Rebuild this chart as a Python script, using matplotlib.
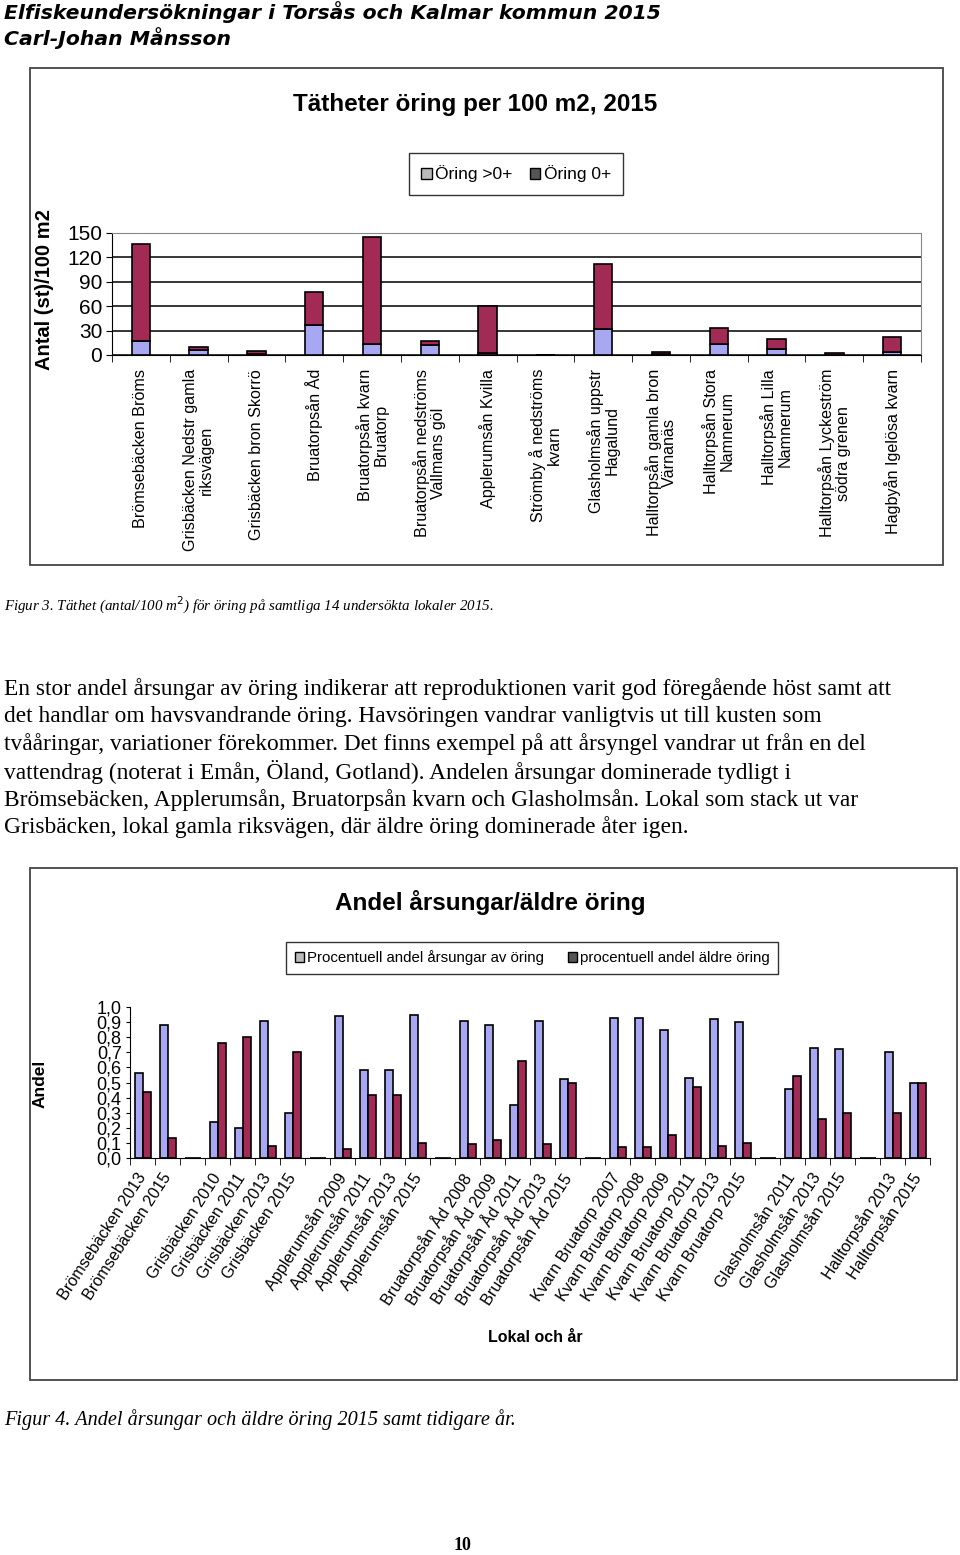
import numpy as np
import matplotlib.pyplot as plt
from matplotlib.patches import Rectangle, Patch

# --- Figur 3: täthet öring per 100 m2, 2015 ---
lokaler = ["Brömsebäcken Bröms", "Grisbäcken Nedstr gamla\nriksvägen", "Grisbäcken bron Skorrö",
           "Bruatorpsån Åd", "Bruatorpsån kvarn\nBruatorp", "Bruatorpsån nedströms\nVallmans göl",
           "Applerumsån Kvilla", "Strömby å nedströms\nkvarn", "Glasholmsån uppstr\nHagalund",
           "Halltorpsån gamla bron\nVärnanäs", "Halltorpsån Stora\nNamnerum", "Halltorpsån Lilla\nNamnerum",
           "Halltorpsån Lyckeström\nsödra grenen", "Hagbyån Igelösa kvarn"]
oring_aldre = [17, 6, 1, 37, 13, 12, 3, 0, 32, 1, 13, 7, 0, 4]      # Öring >0+
oring_0 = [120, 4, 4, 40, 132, 5, 57, 0, 80, 3, 20, 13, 3, 18]       # Öring 0+

# --- Figur 4: andel årsungar / äldre öring ---
lokal_ar = ["Brömsebäcken 2013", "Brömsebäcken 2015", "",
            "Grisbäcken 2010", "Grisbäcken 2011", "Grisbäcken 2013", "Grisbäcken 2015", "",
            "Applerumsån 2009", "Applerumsån 2011", "Applerumsån 2013", "Applerumsån 2015", "",
            "Bruatorpsån Åd 2008", "Bruatorpsån Åd 2009", "Bruatorpsån Åd 2011",
            "Bruatorpsån Åd 2013", "Bruatorpsån Åd 2015", "",
            "Kvarn Bruatorp 2007", "Kvarn Bruatorp 2008", "Kvarn Bruatorp 2009",
            "Kvarn Bruatorp 2011", "Kvarn Bruatorp 2013", "Kvarn Bruatorp 2015", "",
            "Glasholmsån 2011", "Glasholmsån 2013", "Glasholmsån 2015", "",
            "Halltorpsån 2013", "Halltorpsån 2015"]
andel_arsungar = [0.56, 0.88, 0, 0.24, 0.20, 0.91, 0.30, 0, 0.94, 0.58, 0.58, 0.95, 0,
                  0.91, 0.88, 0.35, 0.91, 0.52, 0, 0.93, 0.93, 0.85, 0.53, 0.92, 0.90, 0,
                  0.46, 0.73, 0.72, 0, 0.70, 0.50]
andel_aldre = [0.44, 0.13, 0, 0.76, 0.80, 0.08, 0.70, 0, 0.06, 0.42, 0.42, 0.10, 0,
               0.09, 0.12, 0.64, 0.09, 0.50, 0, 0.07, 0.07, 0.15, 0.47, 0.08, 0.10, 0,
               0.54, 0.26, 0.30, 0, 0.30, 0.50]

W, H = 960, 1555
BLA = "#A8A8F2"
ROD = "#A22B55"

def box(l, t, r, b):
    return [l / W, 1 - b / H, (r - l) / W, (b - t) / H]

def txt(x, y, s, **kw):
    fig.text(x / W, 1 - y / H, s, **kw)

plt.rcParams["font.family"] = ["Liberation Sans", "DejaVu Sans"]
fig = plt.figure(figsize=(W / 100, H / 100), dpi=100)

# header
hdr = dict(family="DejaVu Sans", weight="bold", style="italic", size=14.7, va="center")
txt(4, 12, "Elfiskeundersökningar i Torsås och Kalmar kommun 2015", **hdr)
txt(4, 38, "Carl-Johan Månsson", **hdr)

# chart frames
for l, t, r, b in [(30, 68, 943, 565), (30, 868, 957, 1380)]:
    fig.patches.append(Rectangle((l / W, 1 - b / H), (r - l) / W, (b - t) / H,
                                 transform=fig.transFigure, fill=False, ec="#444444", lw=1.3))

# ---- chart 1 ----
ax1 = fig.add_axes(box(112, 233, 921, 355))
x = np.arange(len(lokaler))
ax1.bar(x, oring_aldre, width=0.32, color=BLA, edgecolor="black", lw=1.2)
ax1.bar(x, oring_0, width=0.32, bottom=oring_aldre, color=ROD, edgecolor="black", lw=1.2)
ax1.set_xlim(-0.5, len(lokaler) - 0.5)
ax1.set_ylim(0, 150)
ax1.set_yticks(range(0, 151, 30))
ax1.yaxis.grid(True, color="black", lw=1.1)
ax1.set_axisbelow(True)
ax1.tick_params(axis="y", labelsize=15, length=4, pad=3)
ax1.set_xticks(x)
ax1.set_xticklabels(lokaler, rotation=90, va="top", ha="center", multialignment="center",
                    fontsize=11.6, linespacing=1.05)
ax1.tick_params(axis="x", which="major", length=0, pad=10)
ax1.set_xticks(np.arange(-0.5, len(lokaler)), minor=True)
ax1.tick_params(axis="x", which="minor", length=5)
for s in ["top", "right"]:
    ax1.spines[s].set_color("#888888")
txt(45, 290, "Antal (st)/100 m2", rotation=90, ha="center", va="center", size=14.5, weight="bold")
txt(475, 105, "Tätheter öring per 100 m2, 2015", ha="center", va="center", size=17.5, weight="bold")
h1 = [Patch(fc="#BBBBBB", ec="black"), Patch(fc="#555555", ec="black")]
leg1 = fig.legend(h1, ["Öring >0+", "Öring 0+"], loc="center", bbox_to_anchor=(516 / W, 1 - 174 / H),
                  ncol=2, fontsize=12.5, frameon=True, fancybox=False, edgecolor="black",
                  handlelength=0.6, handleheight=0.6, handletextpad=0.2, columnspacing=1.0,
                  borderpad=0.7)
leg1.get_frame().set_linewidth(1.0)

# caption 3 and body text
serif = ["Liberation Serif", "DejaVu Serif"]
txt(4, 605, "Figur 3. Täthet (antal/100 m$^2$) för öring på samtliga 14 undersökta lokaler 2015.",
    family=serif, style="italic", size=10.8, va="center")
rader = ["En stor andel årsungar av öring indikerar att reproduktionen varit god föregående höst samt att",
         "det handlar om havsvandrande öring. Havsöringen vandrar vanligtvis ut till kusten som",
         "tvååringar, variationer förekommer. Det finns exempel på att årsyngel vandrar ut från en del",
         "vattendrag (noterat i Emån, Öland, Gotland). Andelen årsungar dominerade tydligt i",
         "Brömsebäcken, Applerumsån, Bruatorpsån kvarn och Glasholmsån. Lokal som stack ut var",
         "Grisbäcken, lokal gamla riksvägen, där äldre öring dominerade åter igen."]
for i, r in enumerate(rader):
    txt(4, 689 + i * 27.7, r, family=serif, size=16.8, va="center")

# ---- chart 2 ----
ax2 = fig.add_axes(box(130, 1007, 930, 1158))
x2 = np.arange(len(lokal_ar))
ax2.bar(x2 - 0.16, andel_arsungar, width=0.32, color=BLA, edgecolor="black", lw=1.2)
ax2.bar(x2 + 0.16, andel_aldre, width=0.32, color=ROD, edgecolor="black", lw=1.2)
ax2.set_xlim(-0.5, len(lokal_ar) - 0.5)
ax2.set_ylim(0, 1.0)
ax2.set_yticks(np.arange(0, 1.01, 0.1))
ax2.set_yticklabels([f"{v:.1f}".replace(".", ",") for v in np.arange(0, 1.01, 0.1)])
ax2.tick_params(axis="y", labelsize=13, length=3, pad=3)
ax2.set_xticks(x2)
ax2.set_xticklabels(lokal_ar, rotation=57, ha="right", va="center", rotation_mode="anchor", fontsize=11.6)
ax2.tick_params(axis="x", which="major", length=0, pad=12)
ax2.set_xticks(np.arange(-0.5, len(lokal_ar)), minor=True)
ax2.tick_params(axis="x", which="minor", length=5)
ax2.spines["top"].set_visible(False)
ax2.spines["right"].set_visible(False)
txt(40, 1084, "Andel", rotation=90, ha="center", va="center", size=12.5, weight="bold")
txt(490, 903, "Andel årsungar/äldre öring", ha="center", va="center", size=17.5, weight="bold")
txt(535, 1337, "Lokal och år", ha="center", va="center", size=11.5, weight="bold")
h2 = [Patch(fc="#BBBBBB", ec="black"), Patch(fc="#555555", ec="black")]
leg2 = fig.legend(h2, ["Procentuell andel årsungar av öring", "procentuell andel äldre öring"],
                  loc="center", bbox_to_anchor=(532 / W, 1 - 958 / H), ncol=2, fontsize=10.8,
                  frameon=True, fancybox=False, edgecolor="black", handlelength=0.6,
                  handleheight=0.6, handletextpad=0.2, columnspacing=1.6, borderpad=0.6)
leg2.get_frame().set_linewidth(1.0)

txt(4, 1420, "Figur 4. Andel årsungar och äldre öring 2015 samt tidigare år.",
    family=serif, style="italic", size=14.6, va="center")
txt(462, 1546, "10", family=serif, weight="bold", size=13, ha="center", va="center")

fig.savefig("out.png", dpi=100)
